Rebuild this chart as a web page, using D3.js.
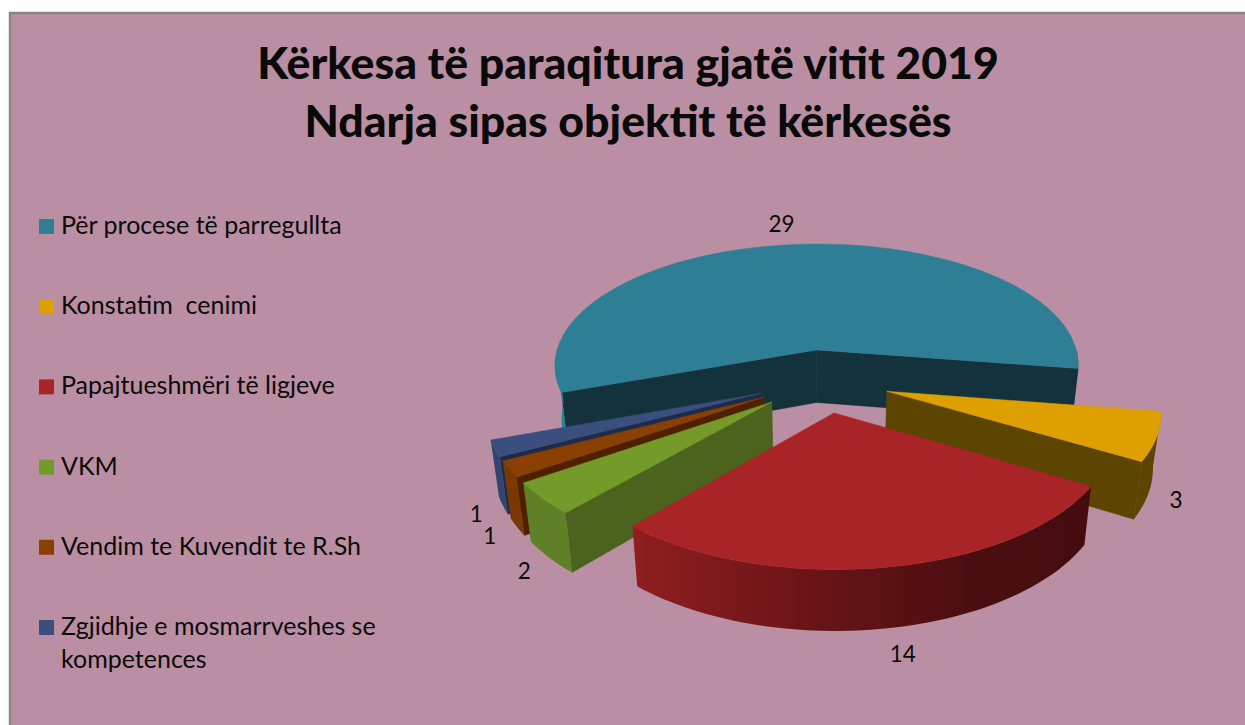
<!DOCTYPE html>
<html>
<head>
<meta charset="utf-8">
<script src="https://cdn.jsdelivr.net/npm/d3@7"></script>
<style>
  html, body { margin: 0; padding: 0; background: #ffffff; overflow: hidden; }
  text { font-family: Lato, "Open Sans", sans-serif; fill: #0a0a0a; white-space: pre; }
</style>
</head>
<body>
<svg id="chart"></svg>
<script>
const titleLines = ["Kërkesa të paraqitura gjatë vitit 2019", "Ndarja sipas objektit të kërkesës"];
const categories = ["Për procese të parregullta", "Konstatim  cenimi", "Papajtueshmëri të ligjeve", "VKM", "Vendim te Kuvendit te R.Sh", "Zgjidhje e mosmarrveshes se kompetences"];
const values = [29, 3, 14, 2, 1, 1];

const topColors = ["#2e7f96", "#dea000", "#a92426", "#749b2a", "#8a3f03", "#3b4f7e"];
const rimColors = ["#2e7f96", "#5c4500", "url(#redRim)", "#5f8027", "#7a3803", "#33456f"];
const faceColors = ["#13323c", "#5c4500", "#4a0e10", "#4b631c", "#4f2000", "#1e2a4a"];
// paint order, back to front
const drawOrder = [0, 1, 5, 4, 3, 2];
// small nudges from the computed label spot
const labelNudge = [[-13, -53], [11, 12], [14, 22], [-10, 15], [-11, 12], [-10, 13]];

const width = 1245, height = 725;
const svg = d3.select("#chart").attr("width", width).attr("height", height);

svg.append("rect").attr("x", 10).attr("y", 13).attr("width", width).attr("height", height)
    .attr("fill", "#ba8fa3").attr("stroke", "#868686").attr("stroke-width", 2.5);

const grad = svg.append("defs").append("linearGradient").attr("id", "redRim");
grad.append("stop").attr("offset", "0%").attr("stop-color", "#8f1e20");
grad.append("stop").attr("offset", "45%").attr("stop-color", "#641315");
grad.append("stop").attr("offset", "75%").attr("stop-color", "#4a0e10");
grad.append("stop").attr("offset", "100%").attr("stop-color", "#440c0f");

svg.selectAll("text.title").data(titleLines).enter().append("text")
    .attr("class", "title")
    .attr("x", 628)
    .attr("y", (d, i) => 79 + i * 58)
    .attr("text-anchor", "middle")
    .attr("font-size", 44.6)
    .attr("font-weight", 900)
    .text(d => d);

// legend
const legendY = d3.scalePoint().domain(categories).range([226, 627]);
const legend = svg.selectAll("g.legend").data(categories).enter().append("g")
    .attr("class", "legend")
    .attr("transform", d => `translate(39,${legendY(d)})`);
legend.append("rect").attr("y", -7).attr("width", 15).attr("height", 15).attr("fill", (d, i) => topColors[i]);
legend.append("text").attr("x", 22).attr("y", 8).attr("font-size", 25).each(function (d) {
    // only the long last entry wraps
    const parts = d.length > 30 ? [d.slice(0, d.lastIndexOf(" ")), d.slice(d.lastIndexOf(" ") + 1)] : [d];
    d3.select(this).selectAll("tspan").data(parts).enter().append("tspan")
        .attr("x", 22)
        .attr("dy", (p, i) => i ? 33 : 0)
        .text(p => p);
});

// flat pie seen in perspective
const x0 = 823, y0 = 380.5;
const scaleX = 268, scaleY = 127, persp = 0.13, explode = 0.25;
const depthBase = 54, depthGrow = 6, shrink = 0.975;

const pie = d3.pie().sort(null).startAngle(-110 * Math.PI / 180).endAngle(250 * Math.PI / 180);
const arcs = pie(values);
const lineGen = d3.line().x(d => d[0]).y(d => d[1]);

function ground(s, a, r) {
    const mid = (s.startAngle + s.endAngle) / 2;
    return [explode * Math.sin(mid) + r * Math.sin(a), -explode * Math.cos(mid) - r * Math.cos(a)];
}
function topPt(g) {
    const f = 1 / (1 - persp * g[1]);
    return [x0 + scaleX * g[0] * f, y0 + scaleY * g[1] * f];
}
function bottomPt(g) {
    const p = topPt(g);
    return [x0 + (p[0] - x0) * shrink, p[1] + depthBase + depthGrow * g[1]];
}
function along(s, a0, a1) {
    return d3.range(0, 61).map(i => ground(s, a0 + (a1 - a0) * i / 60, 1));
}
function wall(g0, g1) {
    return lineGen([topPt(g0), topPt(g1), bottomPt(g1), bottomPt(g0)]) + "Z";
}
function rimParts(s) {
    // the rim only faces the viewer between 90 and 270 degrees
    const parts = [];
    [[-1.5 * Math.PI, -Math.PI / 2], [Math.PI / 2, 1.5 * Math.PI]].forEach(([lo, hi]) => {
        const a0 = Math.max(s.startAngle, lo), a1 = Math.min(s.endAngle, hi);
        if (a1 > a0) parts.push([a0, a1]);
    });
    return parts;
}

const pieG = svg.append("g");
drawOrder.forEach(i => {
    const s = arcs[i];
    const g = pieG.append("g");
    const apex = ground(s, 0, 0);
    const addFace = a => g.append("path").attr("d", wall(apex, ground(s, a, 1)))
        .attr("fill", faceColors[i]).attr("stroke", faceColors[i]).attr("stroke-width", 0.5);
    if (Math.sin(s.startAngle) < 0) addFace(s.startAngle);
    if (Math.sin(s.endAngle) > 0) addFace(s.endAngle);
    rimParts(s).forEach(([a0, a1]) => {
        const pts = along(s, a0, a1);
        // the slice wrapping over the back keeps its right rim in shadow
        const fill = s.startAngle < 0 && a0 > 0 ? faceColors[i] : rimColors[i];
        g.append("path")
            .attr("d", lineGen(pts.map(topPt).concat(pts.slice().reverse().map(bottomPt))) + "Z")
            .attr("fill", fill);
    });
    const outer = along(s, s.startAngle, s.endAngle);
    g.append("path")
        .attr("d", lineGen([apex].concat(outer).map(topPt)) + "Z")
        .attr("fill", topColors[i]).attr("stroke", topColors[i]).attr("stroke-width", 0.5);
});

svg.selectAll("text.value").data(arcs).enter().append("text")
    .attr("class", "value")
    .attr("text-anchor", "middle")
    .attr("font-size", 22.5)
    .attr("transform", (s, i) => {
        const mid = (s.startAngle + s.endAngle) / 2;
        const p = bottomPt(ground(s, mid, 1.06));
        return `translate(${p[0] + labelNudge[i][0]},${p[1] + labelNudge[i][1]})`;
    })
    .text(s => s.data);
</script>
</body>
</html>
